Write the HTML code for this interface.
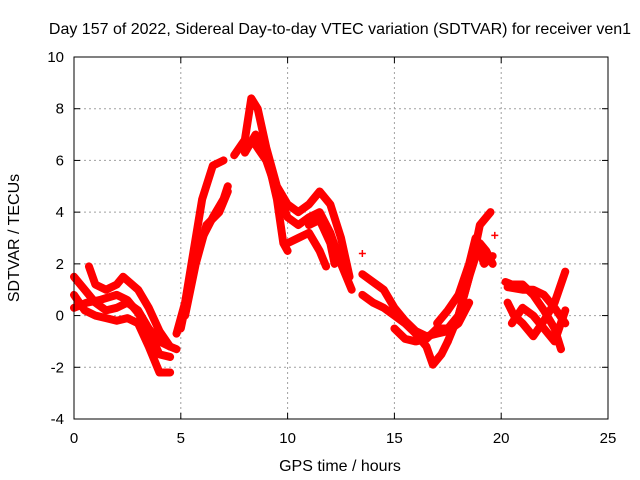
<!DOCTYPE html>
<html><head><meta charset="utf-8"><style>
body{margin:0;background:#fff;}
svg{display:block;font-family:"Liberation Sans",sans-serif;}
</style></head><body>
<svg id="chart" width="640" height="480">
<text x="340" y="34" font-size="16" text-anchor="middle">Day 157 of 2022, Sidereal Day-to-day VTEC variation (SDTVAR) for receiver ven1</text>
<text x="340" y="471" font-size="16" text-anchor="middle">GPS time / hours</text>
<text transform="translate(19,238) rotate(-90)" font-size="16" text-anchor="middle">SDTVAR / TECUs</text>
<g id="grid"></g><g id="marks"></g><g id="axes"></g>
</svg>
<script>
const xTicks=[0,5,10,15,20,25];
const yTicks=[-4,-2,0,2,4,6,8,10];
const trackA=[[0,1.5],[0.5,1.0],[1,0.5],[1.5,0.2],[2,0.3],[2.5,0.5],[3,0.2],[3.5,-0.5],[4,-1.0],[4.5,-1.2],[4.8,-1.3]];
const trackB=[[0,0.8],[0.5,0.2],[1,0.0],[1.5,-0.1],[2,-0.2],[2.5,-0.1],[3,-0.3],[3.5,-1.2],[4,-2.2],[4.5,-2.2]];
const trackC=[[0.7,1.9],[1,1.2],[1.5,1.0],[2,1.2],[2.3,1.5],[3,1.0],[3.5,0.3],[4,-0.6],[4.5,-1.2]];
const trackD=[[0,0.3],[0.6,0.5],[1.2,0.6],[2,0.8],[2.5,0.6],[3,0.1],[3.5,-0.6],[4,-1.5],[4.5,-1.6]];
const trackE=[[4.8,-0.7],[5.2,0.5],[5.6,2.5],[6,4.5],[6.5,5.8],[7,6.0]];
const trackF=[[5,-0.5],[5.5,1.5],[6,3.0],[6.5,3.8],[7,4.5],[7.2,5.0]];
const trackG=[[5.2,0],[5.7,2],[6.2,3.5],[6.8,4],[7.2,4.8]];
const trackH=[[7.5,6.2],[8,6.8],[8.3,8.4],[8.6,8.0],[9,6.5],[9.5,5.0],[10,4.3],[10.5,4.0],[11,4.3],[11.5,4.8],[12,4.3],[12.5,3.0],[12.9,1.5]];
const trackI=[[8,6.3],[8.5,7.0],[9,6.3],[9.5,4.5],[9.8,2.8],[10,2.5]];
const trackJ=[[8.5,6.6],[9,6.0],[9.5,4.8],[10,3.8],[10.5,3.5],[11,3.8],[11.5,4.0],[12,3.2],[12.5,2.0],[13,1.0]];
const trackK=[[10,2.8],[10.5,3.0],[11,3.2],[11.5,2.5],[11.8,1.9]];
const trackL=[[11,3.5],[11.5,3.7],[12,2.8],[12.2,2.0]];
const trackM=[[13.5,0.8],[14,0.5],[14.5,0.3],[15,0],[15.5,-0.3],[16,-0.7],[16.5,-1.2],[16.8,-1.9],[17.2,-1.5],[17.5,-1.0]];
const trackN=[[13.5,1.6],[14,1.3],[14.5,1.0],[15,0.3],[15.5,-0.2],[16,-0.6],[16.5,-0.8],[17,-0.7],[17.5,-0.6],[18,-0.3],[18.5,0.5]];
const trackO=[[15,-0.5],[15.5,-0.9],[16,-1.0],[16.5,-0.9],[17,-0.5],[17.5,-0.5],[18,0],[18.5,1.5],[19,3.5],[19.5,4.0]];
const trackP=[[17.5,-1],[18,0],[18.5,1.5],[19,2.8],[19.3,2.5],[19.6,2]];
const trackQ=[[17,-0.3],[17.5,0.2],[18,0.8],[18.5,2],[18.8,3],[19.2,2.0],[19.6,2.3]];
const trackR=[[20.2,1.3],[20.5,1.2],[21,1.2],[21.5,0.8],[22,0.2],[22.5,-0.5],[22.8,-1.3]];
const trackS=[[20.3,0.5],[20.6,0],[21,-0.3],[21.5,-0.8],[22,-0.2],[22.5,0.5],[23,1.7]];
const trackT=[[20.3,1.1],[21,1.0],[21.5,1.0],[22,0.8],[22.5,0.3],[23,-0.3]];
const trackU=[[20.5,-0.3],[21,0.3],[21.5,0.0],[22,-0.5],[22.5,-1.0],[23,0.2]];
const singles=[[13.5,2.4],[19.7,3.1]];
const tracks=[trackA,trackB,trackC,trackD,trackE,trackF,trackG,trackH,trackI,trackJ,trackK,trackL,trackM,trackN,trackO,trackP,trackQ,trackR,trackS,trackT,trackU];

const L=74,R=608,T=57,B=419;
const sx=v=>L+(v-0)/(25-0)*(R-L);
const sy=v=>B-(v+4)/(14)*(B-T);
const NS="http://www.w3.org/2000/svg";
const grid=document.getElementById('grid'),marks=document.getElementById('marks'),axes=document.getElementById('axes');
function mk(tag,at,parent){const e=document.createElementNS(NS,tag);for(const k in at)e.setAttribute(k,at[k]);parent.appendChild(e);return e;}
xTicks.forEach(t=>{const x=sx(t);
 if(t>0&&t<25){const g=mk('line',{x1:x,x2:x,y1:T,y2:B,stroke:'#a0a0a0','stroke-dasharray':'2,3'},grid);
 
 }
 mk('line',{x1:x,x2:x,y1:B,y2:B-6,stroke:'#000'},axes);mk('line',{x1:x,x2:x,y1:T,y2:T+6,stroke:'#000'},axes);
 const tx=mk('text',{x:x,y:B+24,'font-size':15,'text-anchor':'middle'},axes);tx.textContent=t;
 
 });
yTicks.forEach(t=>{const y=sy(t);
 if(t>-4&&t<10){const g=mk('line',{x1:L,x2:R,y1:y,y2:y,stroke:'#a0a0a0','stroke-dasharray':'2,3'},grid);
 
 }
 mk('line',{x1:L,x2:L+6,y1:y,y2:y,stroke:'#000'},axes);mk('line',{x1:R,x2:R-6,y1:y,y2:y,stroke:'#000'},axes);
 const tx=mk('text',{x:L-10,y:y+5,'font-size':15,'text-anchor':'end'},axes);tx.textContent=t;
 
 });
const fr=mk('rect',{x:L,y:T,width:R-L,height:B-T,fill:'none',stroke:'#000'},axes);


tracks.forEach(tr=>{
 const p=mk('polyline',{points:tr.map(d=>sx(d[0])+','+sy(d[1])).join(' '),fill:'none',stroke:'#ff0000','stroke-width':8,'stroke-linejoin':'round','stroke-linecap':'round'},marks);
 
 
});
tracks.concat([singles]).forEach(tr=>tr.forEach(d=>{
 const x=sx(d[0]),y=sy(d[1]);
 const m=mk('path',{d:`M${x-3.5},${y}H${x+3.5}M${x},${y-3.5}V${y+3.5}`,stroke:'#ff0000','stroke-width':1.5},marks);
 
 
}));
</script>
</body></html>
